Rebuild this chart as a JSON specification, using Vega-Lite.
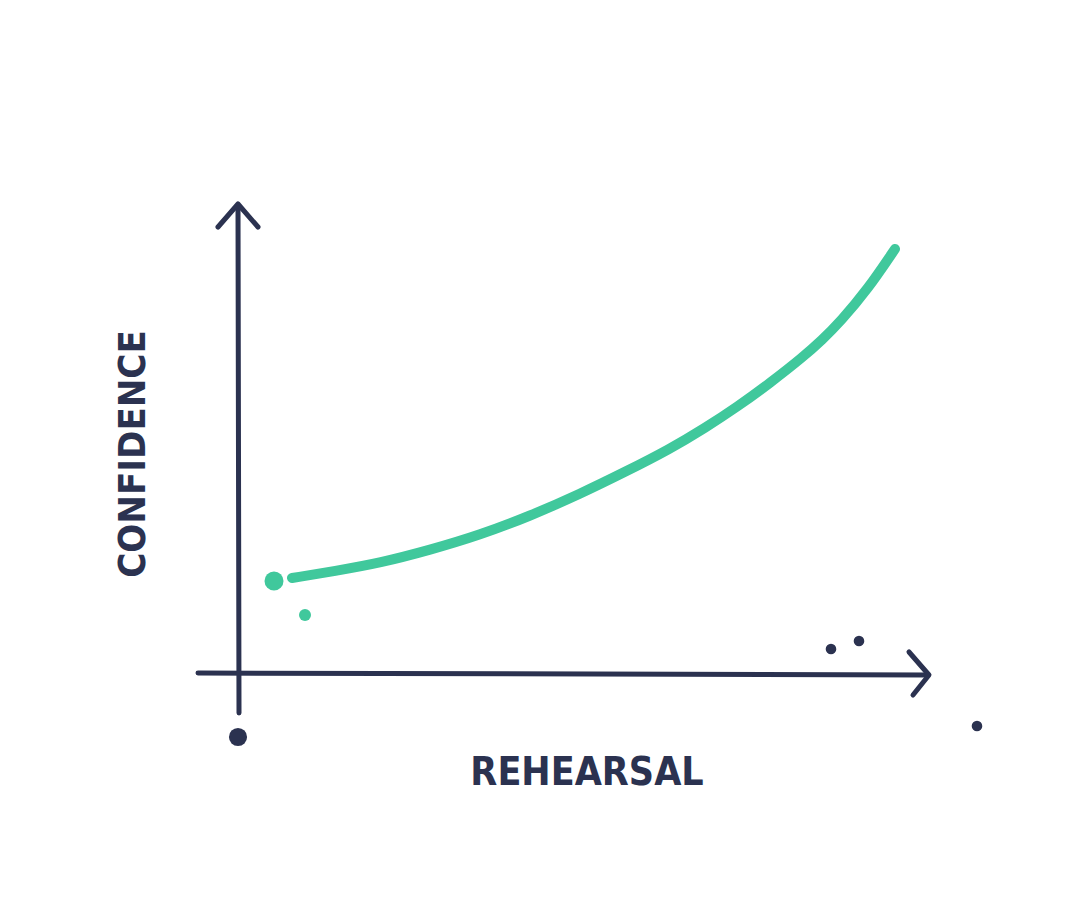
{
  "$schema": "https://vega.github.io/schema/vega-lite/v6.json",
  "width": 1080,
  "height": 918,
  "padding": 0,
  "autosize": {"type": "fit", "contains": "padding"},
  "background": "white",
  "config": {"view": {"stroke": null}},
  "datasets": {
    "axes": [
      {"seg": "yaxis", "i": 0, "rx": 239, "cy": 205},
      {"seg": "yaxis", "i": 1, "rx": 238, "cy": 713},
      {"seg": "yarrow", "i": 0, "rx": 218, "cy": 691},
      {"seg": "yarrow", "i": 1, "rx": 238, "cy": 714},
      {"seg": "yarrow", "i": 2, "rx": 258, "cy": 691},
      {"seg": "xaxis", "i": 0, "rx": 198, "cy": 245},
      {"seg": "xaxis", "i": 1, "rx": 928, "cy": 243},
      {"seg": "xarrow", "i": 0, "rx": 909, "cy": 266},
      {"seg": "xarrow", "i": 1, "rx": 929, "cy": 243},
      {"seg": "xarrow", "i": 2, "rx": 913, "cy": 223}
    ],
    "curve": [
      {"i": 0, "rx": 292, "cy": 340},
      {"i": 1, "rx": 335, "cy": 347},
      {"i": 2, "rx": 380, "cy": 355},
      {"i": 3, "rx": 430, "cy": 368},
      {"i": 4, "rx": 480, "cy": 383},
      {"i": 5, "rx": 530, "cy": 402},
      {"i": 6, "rx": 580, "cy": 424},
      {"i": 7, "rx": 625, "cy": 446},
      {"i": 8, "rx": 670, "cy": 469},
      {"i": 9, "rx": 705, "cy": 490},
      {"i": 10, "rx": 737, "cy": 511},
      {"i": 11, "rx": 770, "cy": 535},
      {"i": 12, "rx": 803, "cy": 561},
      {"i": 13, "rx": 822, "cy": 578},
      {"i": 14, "rx": 840, "cy": 596},
      {"i": 15, "rx": 868, "cy": 629},
      {"i": 16, "rx": 895, "cy": 669}
    ],
    "dots": [
      {"kind": "green", "rx": 274, "cy": 337, "s": 66},
      {"kind": "green", "rx": 305, "cy": 303, "s": 26},
      {"kind": "dark", "rx": 831, "cy": 269, "s": 20},
      {"kind": "dark", "rx": 859, "cy": 277, "s": 20},
      {"kind": "dark", "rx": 977, "cy": 192, "s": 20},
      {"kind": "dark", "rx": 238, "cy": 181, "s": 60}
    ],
    "labels": [
      {"label": "REHEARSAL", "rx": 587, "cy": 145, "a": 0},
      {"label": "CONFIDENCE", "rx": 134, "cy": 464, "a": 270}
    ]
  },
  "encoding": {
    "x": {"field": "rx", "type": "quantitative", "scale": {"domain": [0, 1080], "nice": false, "zero": false}, "axis": null},
    "y": {"field": "cy", "type": "quantitative", "scale": {"domain": [0, 918], "nice": false, "zero": false}, "axis": null}
  },
  "layer": [
    {
      "data": {"name": "axes"},
      "mark": {"type": "line", "color": "#2b3250", "strokeWidth": 5, "strokeCap": "round", "strokeJoin": "round"},
      "encoding": {"detail": {"field": "seg"}, "order": {"field": "i", "type": "quantitative"}}
    },
    {
      "data": {"name": "curve"},
      "mark": {"type": "line", "color": "#40c89c", "strokeWidth": 10, "strokeCap": "round", "interpolate": "basis"},
      "encoding": {"order": {"field": "i", "type": "quantitative"}}
    },
    {
      "data": {"name": "dots"},
      "mark": {"type": "circle", "opacity": 1},
      "encoding": {
        "size": {"field": "s", "type": "quantitative", "scale": {"type": "identity"}, "legend": null},
        "color": {"field": "kind", "type": "nominal", "scale": {"domain": ["green", "dark"], "range": ["#40c89c", "#2b3250"]}, "legend": null}
      }
    },
    {
      "data": {"name": "labels"},
      "transform": [{"filter": "datum.a == 0"}],
      "mark": {"type": "text", "font": "DejaVu Sans Condensed", "fontWeight": "bold", "fontSize": 39, "color": "#2b3250", "align": "center", "baseline": "middle"},
      "encoding": {"text": {"field": "label"}}
    },
    {
      "data": {"name": "labels"},
      "transform": [{"filter": "datum.a == 270"}],
      "mark": {"type": "text", "font": "DejaVu Sans Condensed", "fontWeight": "bold", "fontSize": 38, "color": "#2b3250", "align": "center", "baseline": "middle", "angle": 270},
      "encoding": {"text": {"field": "label"}}
    }
  ]
}
